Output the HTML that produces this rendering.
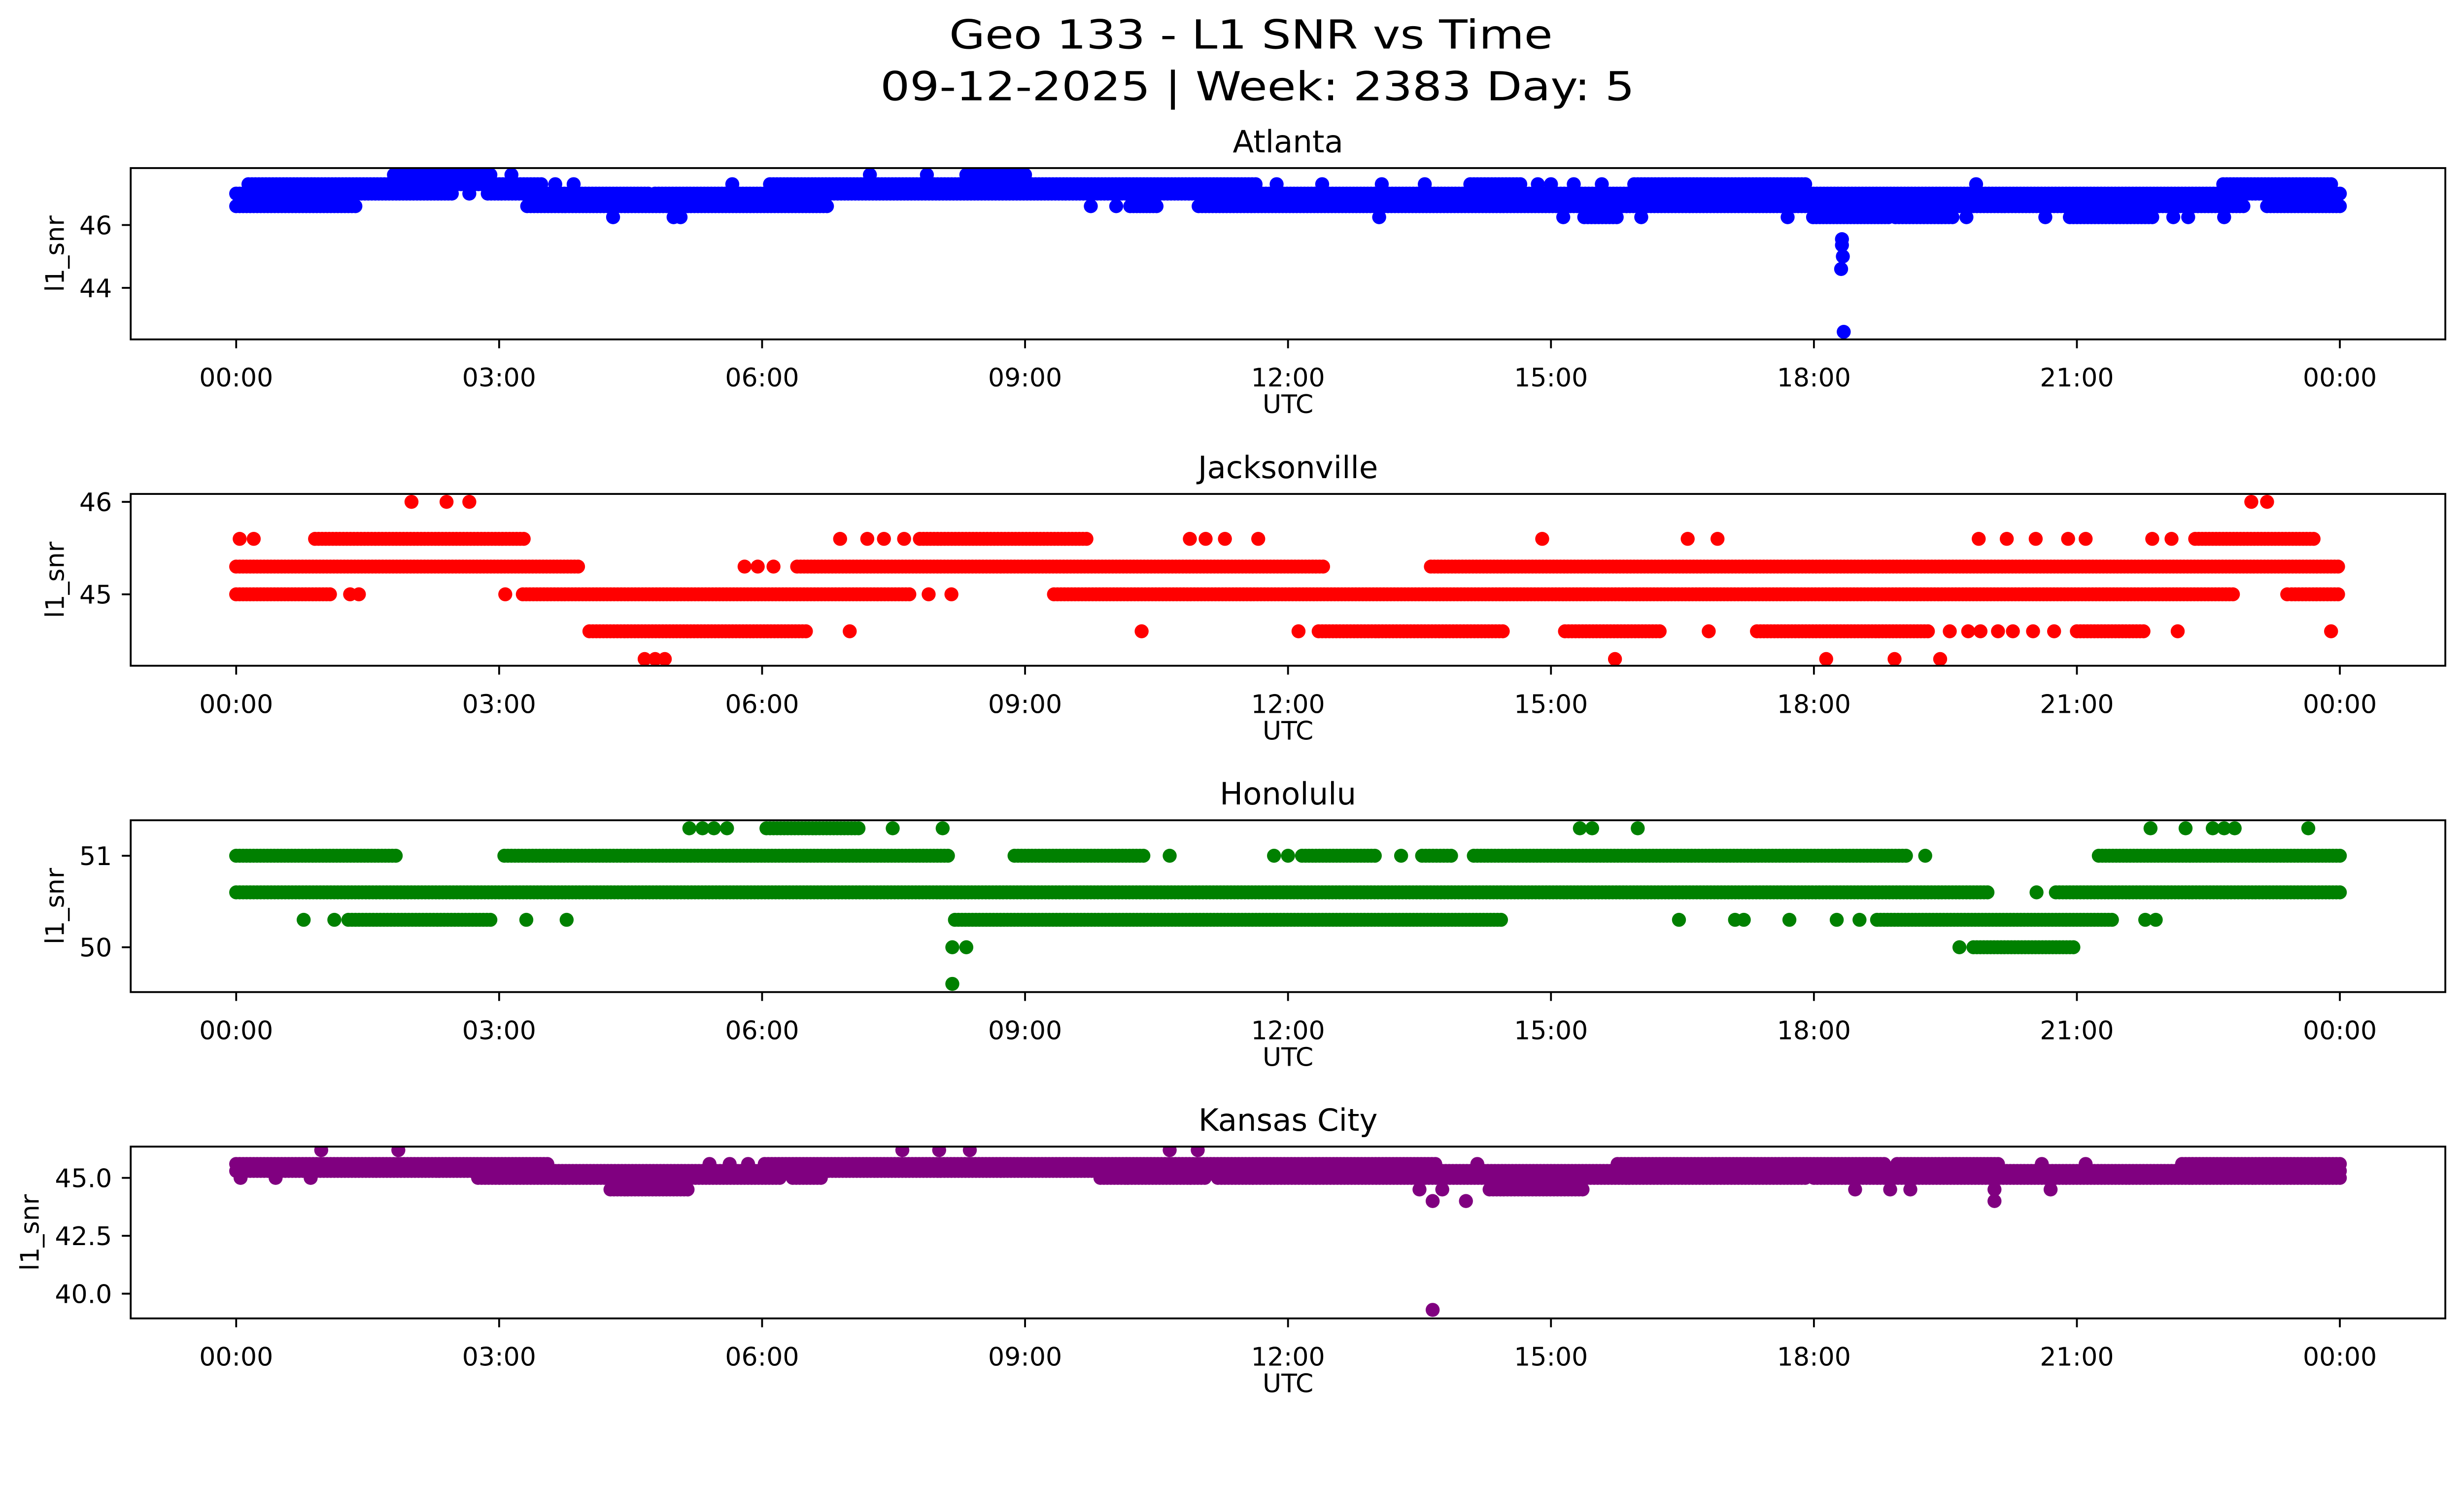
<!DOCTYPE html>
<html>
<head>
<meta charset="utf-8">
<style>
  html, body { margin: 0; padding: 0; background: #fff; overflow: hidden; }
  svg { display: block; width: 100vw; height: 57.455vw; }
  text { font-family: "DejaVu Sans", "Liberation Sans", sans-serif; fill: #000; }
</style>
</head>
<body>
<svg id="fig" xmlns="http://www.w3.org/2000/svg" viewBox="0 0 5279 3033" preserveAspectRatio="xMinYMin meet">
  <rect x="0" y="0" width="5279" height="3033" fill="#fff"/>
  <text x="2680" y="104" font-size="86" text-anchor="middle" textLength="1293" lengthAdjust="spacingAndGlyphs">Geo 133 - L1 SNR vs Time</text>
  <text x="2694" y="215" font-size="86" text-anchor="middle" textLength="1616" lengthAdjust="spacingAndGlyphs">09-12-2025 | Week: 2383 Day: 5</text>
  <g id="panels"></g>
</svg>
<script>
// ---- data: runs of observations [startHour, endHour, l1_snr] ----
const atlantaRuns = [
  [1.8,2.9,47.6],[3.14,3.14,47.6],[7.23,7.23,47.6],[7.88,7.88,47.6],[8.33,9.0,47.6],
  [0.14,3.48,47.3],[3.64,3.64,47.3],[3.85,3.85,47.3],[5.66,5.66,47.3],[6.09,11.63,47.3],[11.87,11.87,47.3],[12.39,12.39,47.3],[13.07,13.07,47.3],[13.56,13.56,47.3],[14.08,14.65,47.3],[14.85,14.85,47.3],[15.0,15.0,47.3],[15.26,15.26,47.3],[15.58,15.58,47.3],[15.95,17.9,47.3],[19.85,19.85,47.3],[22.67,23.9,47.3],
  [0,2.46,47.0],[2.66,2.66,47.0],[2.87,4.7,47.0],[4.78,24,47.0],
  [0,1.36,46.6],[3.32,6.74,46.6],[9.75,9.75,46.6],[10.04,10.04,46.6],[10.2,10.5,46.6],[10.98,22.9,46.6],[23.17,24,46.6],
  [4.3,4.3,46.25],[4.99,4.99,46.25],[5.07,5.07,46.25],[13.04,13.04,46.25],[15.14,15.14,46.25],[15.38,15.75,46.25],[16.03,16.03,46.25],[17.7,17.7,46.25],[17.99,18.85,46.25],[18.93,19.58,46.25],[19.74,19.74,46.25],[20.64,20.64,46.25],[20.92,21.86,46.25],[22.1,22.1,46.25],[22.27,22.27,46.25],[22.68,22.68,46.25],
  [18.32,18.32,45.55],[18.32,18.32,45.36],[18.33,18.33,45.0],[18.31,18.31,44.6],[18.34,18.34,42.6]
];
const jacksonvilleRuns = [
  [2.0,2.0,46],[2.4,2.4,46],[2.66,2.66,46],[22.99,22.99,46],[23.17,23.17,46],
  [0.04,0.04,45.6],[0.2,0.2,45.6],[0.9,3.28,45.6],[6.89,6.89,45.6],[7.2,7.2,45.6],[7.39,7.39,45.6],[7.62,7.62,45.6],[7.8,9.7,45.6],[10.88,10.88,45.6],[11.06,11.06,45.6],[11.28,11.28,45.6],[11.66,11.66,45.6],[14.9,14.9,45.6],[16.56,16.56,45.6],[16.9,16.9,45.6],[19.88,19.88,45.6],[20.2,20.2,45.6],[20.53,20.53,45.6],[20.9,20.9,45.6],[21.1,21.1,45.6],[21.86,21.86,45.6],[22.08,22.08,45.6],[22.35,23.7,45.6],
  [0,3.9,45.3],[5.8,5.8,45.3],[5.95,5.95,45.3],[6.13,6.13,45.3],[6.4,12.4,45.3],[13.63,23.98,45.3],
  [0,1.07,45],[1.3,1.3,45],[1.4,1.4,45],[3.07,3.07,45],[3.27,7.68,45],[7.9,7.9,45],[8.16,8.16,45],[9.33,22.78,45],[23.4,23.4,45],[23.45,23.98,45],
  [4.03,6.5,44.6],[7.0,7.0,44.6],[10.33,10.33,44.6],[12.12,12.12,44.6],[12.35,14.45,44.6],[15.16,16.24,44.6],[16.8,16.8,44.6],[17.35,19.3,44.6],[19.55,19.55,44.6],[19.76,19.76,44.6],[19.9,19.9,44.6],[20.1,20.1,44.6],[20.27,20.27,44.6],[20.5,20.5,44.6],[20.74,20.74,44.6],[21.0,21.76,44.6],[22.15,22.15,44.6],[23.9,23.9,44.6],
  [4.66,4.66,44.3],[4.78,4.78,44.3],[4.89,4.89,44.3],[15.73,15.73,44.3],[18.14,18.14,44.3],[18.92,18.92,44.3],[19.44,19.44,44.3]
];
const honoluluRuns = [
  [5.17,5.17,51.3],[5.32,5.32,51.3],[5.45,5.45,51.3],[5.6,5.6,51.3],[6.05,7.1,51.3],[7.49,7.49,51.3],[8.06,8.06,51.3],[15.33,15.33,51.3],[15.47,15.47,51.3],[15.99,15.99,51.3],[21.84,21.84,51.3],[22.24,22.24,51.3],[22.55,22.55,51.3],[22.68,22.68,51.3],[22.8,22.8,51.3],[23.64,23.64,51.3],
  [0,1.82,51],[3.06,8.12,51],[8.88,10.35,51],[10.65,10.65,51],[11.84,11.84,51],[12.0,12.0,51],[12.16,12.99,51],[13.29,13.29,51],[13.53,13.86,51],[14.12,19.05,51],[19.27,19.27,51],[21.25,24,51],
  [0,19.98,50.6],[20.54,20.54,50.6],[20.76,24,50.6],
  [0.77,0.77,50.3],[1.12,1.12,50.3],[1.28,2.9,50.3],[3.31,3.31,50.3],[3.77,3.77,50.3],[8.2,14.43,50.3],[16.46,16.46,50.3],[17.1,17.1,50.3],[17.2,17.2,50.3],[17.72,17.72,50.3],[18.26,18.26,50.3],[18.52,18.52,50.3],[18.72,21.4,50.3],[21.78,21.78,50.3],[21.9,21.9,50.3],
  [8.17,8.17,50.0],[8.33,8.33,50.0],[19.66,19.66,50.0],[19.82,20.96,50.0],
  [8.17,8.17,49.6]
];
const kansasCityRuns = [
  [0.97,0.97,46.2],[1.85,1.85,46.2],[7.6,7.6,46.2],[8.02,8.02,46.2],[8.37,8.37,46.2],[10.65,10.65,46.2],[10.97,10.97,46.2],
  [0,3.55,45.6],[5.4,5.4,45.6],[5.63,5.63,45.6],[5.84,5.84,45.6],[6.03,13.68,45.6],[14.16,14.16,45.6],[15.76,18.8,45.6],[18.95,20.1,45.6],[20.6,20.6,45.6],[21.1,21.1,45.6],[22.2,24,45.6],
  [0,24,45.3],
  [0.05,0.05,45.0],[0.45,0.45,45.0],[0.85,0.85,45.0],[2.76,6.2,45.0],[6.35,6.67,45.0],[9.86,11.05,45.0],[11.2,17.9,45.0],[18.0,24,45.0],
  [4.27,5.15,44.5],[13.5,13.5,44.5],[13.76,13.76,44.5],[14.3,15.36,44.5],[18.47,18.47,44.5],[18.87,18.87,44.5],[19.1,19.1,44.5],[20.06,20.06,44.5],[20.7,20.7,44.5],
  [13.65,13.65,44.0],[14.03,14.03,44.0],[20.06,20.06,44.0],
  [13.65,13.65,39.3]
];
const xTickHours = [0, 3, 6, 9, 12, 15, 18, 21, 24];
const xTickLabels = ["00:00","03:00","06:00","09:00","12:00","15:00","18:00","21:00","00:00"];
const atlantaTicks = [44, 46];
const jacksonvilleTicks = [45, 46];
const honoluluTicks = [50, 51];
const kansasCityTicks = [40.0, 42.5, 45.0];
const kansasCityTickLabels = ["40.0", "42.5", "45.0"];

// ---- layout ----
const NS = "http://www.w3.org/2000/svg";
const AX_L = 280, AX_R = 5239;
const X0 = 506, X24 = 5013;
const TICK_FS = 55, TITLE_FS = 66;
function xScale(h) { return X0 + h * (X24 - X0) / 24; }

const panels = [
  { key: "atlanta", title: "Atlanta", runs: atlantaRuns, color: "#0000ff", top: 360, bottom: 727, refV: 46, refY: 482, ppu: 67.3, ticks: atlantaTicks, tickLabels: atlantaTicks.map(String), ylabX: 119 },
  { key: "jacksonville", title: "Jacksonville", runs: jacksonvilleRuns, color: "#ff0000", top: 1058, bottom: 1426, refV: 45, refY: 1273, ppu: 198, ticks: jacksonvilleTicks, tickLabels: jacksonvilleTicks.map(String), ylabX: 119 },
  { key: "honolulu", title: "Honolulu", runs: honoluluRuns, color: "#008000", top: 1757, bottom: 2125, refV: 50, refY: 2029, ppu: 196, ticks: honoluluTicks, tickLabels: honoluluTicks.map(String), ylabX: 119 },
  { key: "kansas-city", title: "Kansas City", runs: kansasCityRuns, color: "#800080", top: 2456, bottom: 2824, refV: 45, refY: 2523, ppu: 49.6, ticks: kansasCityTicks, tickLabels: kansasCityTickLabels, ylabX: 65 }
];

function mk(tag, attrs) {
  const e = document.createElementNS(NS, tag);
  for (const k in attrs) e.setAttribute(k, attrs[k]);
  return e;
}

const root = document.getElementById("panels");
const defs = mk("defs", {});
root.appendChild(defs);

panels.forEach(p => {
  const yScale = v => p.refY - (v - p.refV) * p.ppu;
  const g = mk("g", {});
  
  
  root.appendChild(g);

  const clip = mk("clipPath", { id: "clip-" + p.key });
  clip.appendChild(mk("rect", { x: AX_L, y: p.top, width: AX_R - AX_L, height: p.bottom - p.top }));
  defs.appendChild(clip);

  const t = mk("text", { x: (AX_L + AX_R) / 2, y: p.top - 34, "font-size": TITLE_FS, "text-anchor": "middle" });
  
  
  t.textContent = p.title;
  g.appendChild(t);

  const pts = mk("g", { "clip-path": "url(#clip-" + p.key + ")", fill: p.color });
  
  
  g.appendChild(pts);
  p.runs.forEach(r => {
    const h0 = r[0], h1 = r[1], v = r[2];
    const n = Math.max(0, Math.round((h1 - h0) / 0.04));
    for (let i = 0; i <= n; i++) {
      const h = n === 0 ? h0 : h0 + (h1 - h0) * i / n;
      const c = mk("circle", { cx: xScale(h).toFixed(1), cy: yScale(v).toFixed(1), r: 15 });
      pts.appendChild(c);
    }
  });

  const frame = mk("rect", { x: AX_L, y: p.top, width: AX_R - AX_L, height: p.bottom - p.top, fill: "none", stroke: "#000", "stroke-width": 4 });
  
  
  g.appendChild(frame);

  xTickHours.forEach((h, i) => {
    const x = xScale(h);
    const tk = mk("line", { x1: x, x2: x, y1: p.bottom, y2: p.bottom + 19, stroke: "#000", "stroke-width": 4 });
    
    
    g.appendChild(tk);
    const lb = mk("text", { x: x, y: p.bottom + 101, "font-size": TICK_FS, "text-anchor": "middle" });
    
    
    lb.textContent = xTickLabels[i];
    g.appendChild(lb);
  });
  const xl = mk("text", { x: (AX_L + AX_R) / 2, y: p.bottom + 158, "font-size": TICK_FS, "text-anchor": "middle" });
  
  
  xl.textContent = "UTC";
  g.appendChild(xl);

  p.ticks.forEach((v, i) => {
    const y = yScale(v);
    const tk = mk("line", { x1: AX_L - 19, x2: AX_L, y1: y, y2: y, stroke: "#000", "stroke-width": 4 });
    
    
    g.appendChild(tk);
    const lb = mk("text", { x: AX_L - 40, y: y + 20, "font-size": TICK_FS, "text-anchor": "end" });
    
    
    lb.textContent = p.tickLabels[i];
    g.appendChild(lb);
  });
  const yc = (p.top + p.bottom) / 2;
  const yl = mk("text", { x: p.ylabX, y: yc, "font-size": TICK_FS, "text-anchor": "middle", "dominant-baseline": "central", transform: "rotate(-90 " + p.ylabX + " " + yc + ")" });
  
  
  yl.textContent = "l1_snr";
  g.appendChild(yl);
});
</script>
</body>
</html>
